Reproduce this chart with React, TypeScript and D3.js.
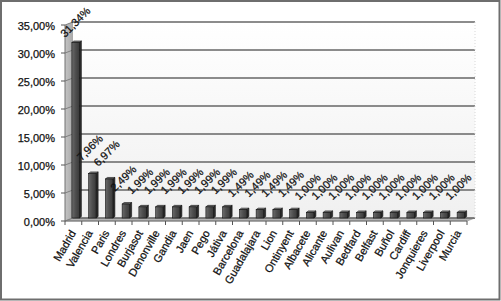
import React from "react";
import * as d3 from "d3";

const categories = [
  "Madrid", "Valencia", "Paris", "Londres", "Burjasot", "Denonville", "Gandia", "Jaen",
  "Pego", "Játiva", "Barcelona", "Guadalajara", "Lion", "Ontinyent", "Albacete", "Alicante",
  "Aulivan", "Bedfard", "Belfast", "Buñol", "Cardiff", "Jonquieres", "Liverpool", "Murcia",
];
const values = [
  31.34, 7.96, 6.97, 2.49, 1.99, 1.99, 1.99, 1.99,
  1.99, 1.99, 1.49, 1.49, 1.49, 1.49, 1.0, 1.0,
  1.0, 1.0, 1.0, 1.0, 1.0, 1.0, 1.0, 1.0,
];
const yTicks = [0, 5, 10, 15, 20, 25, 30, 35];

const W = 501;
const H = 301;
const DX = 8;
const DY = -3;
const FONT = "'Liberation Sans', Arial, sans-serif";

const fmt = (v: number) => d3.format(".2f")(v).replace(".", ",") + "%";

export default function App() {
  const x = d3.scaleBand<string>().domain(categories).range([65, 467]).padding(0);
  const y = d3.scaleLinear().domain([0, 35]).range([221, 25]);
  const bw = x.bandwidth();
  const xL = x.range()[0];
  const xR = x.range()[1];
  const y0 = y(0);
  const yTop = y(35);

  const faceW = 7.5;
  const sdx = 2;
  const sdy = -1.5;
  const textProps = { fontFamily: FONT, fontSize: 11, fill: "#111", stroke: "#111", strokeWidth: 0.25 };

  return (
    <div style={{ position: "fixed", left: 0, top: 0 }}>
      <svg width={W} height={H} style={{ display: "block" }}>
        <defs>
          <linearGradient id="backWall" x1="0" y1="0" x2="0" y2="1">
            <stop offset="0" stopColor="#ffffff" />
            <stop offset="1" stopColor="#f0f0f0" />
          </linearGradient>
          <linearGradient id="sideWall" x1="0" y1="0" x2="1" y2="0">
            <stop offset="0" stopColor="#c4c4c4" />
            <stop offset="1" stopColor="#a8a8a8" />
          </linearGradient>
          <linearGradient id="barFront" x1="0" y1="0" x2="1" y2="0">
            <stop offset="0" stopColor="#6a6a6a" />
            <stop offset="0.5" stopColor="#4e4e4e" />
            <stop offset="1" stopColor="#3a3a3a" />
          </linearGradient>
        </defs>
        <rect x={0} y={0} width={W} height={H} fill="#ffffff" />
        <rect x={1} y={1} width={W - 2.5} height={H - 2.5} fill="none" stroke="#6e6e6e" strokeWidth={2} />

        {/* back wall */}
        <rect x={xL + DX} y={yTop + DY} width={xR - xL} height={y0 - yTop} fill="url(#backWall)" />
        {/* side wall */}
        <polygon
          points={`${xL},${y0} ${xL + DX},${y0 + DY} ${xL + DX},${yTop + DY} ${xL},${yTop}`}
          fill="url(#sideWall)"
        />
        {/* floor */}
        <polygon
          points={`${xL},${y0} ${xR},${y0} ${xR + DX},${y0 + DY} ${xL + DX},${y0 + DY}`}
          fill="#b2b2b2"
          stroke="#8a8a8a"
          strokeWidth={0.6}
        />
        {/* gridlines */}
        {yTicks.map((t) => (
          <g key={"g" + t}>
            <line x1={xL + DX} x2={xR + DX} y1={y(t) + DY} y2={y(t) + DY} stroke="#666" strokeWidth={1.4} />
            <line x1={xL} x2={xL + DX} y1={y(t)} y2={y(t) + DY} stroke="#808080" strokeWidth={1} />
          </g>
        ))}
        <line x1={xR + DX} x2={xR + DX} y1={yTop + DY} y2={y0 + DY} stroke="#d8d8d8" strokeWidth={1} strokeDasharray="1,2" />

        {/* y axis */}
        <line x1={xL} x2={xL} y1={yTop} y2={y0} stroke="#707070" strokeWidth={1} />
        {yTicks.map((t) => (
          <g key={"t" + t}>
            <line x1={xL - 4} x2={xL} y1={y(t)} y2={y(t)} stroke="#555" strokeWidth={1} />
            <text x={55} y={y(t) + 4.5} textAnchor="end" {...textProps}>
              {fmt(t)}
            </text>
          </g>
        ))}

        {/* x axis ticks */}
        <line x1={xL} x2={xR} y1={y0} y2={y0} stroke="#707070" strokeWidth={1} />
        {d3.range(categories.length + 1).map((i) => (
          <line key={"xt" + i} x1={xL + i * bw} x2={xL + i * bw} y1={y0} y2={y0 + 4} stroke="#555" strokeWidth={1} />
        ))}

        {/* bars */}
        {categories.map((c, i) => {
          const cx = (x(c) as number) + bw / 2;
          const left = cx - 1.5;
          const right = left + faceW;
          const base = y(0) + DY;
          const top = y(values[i]) + DY;
          return (
            <g key={"b" + c}>
              <polygon
                points={`${right},${base} ${right + sdx},${base + sdy} ${right + sdx},${top + sdy} ${right},${top}`}
                fill="#2c2c2c"
                stroke="#111"
                strokeWidth={0.6}
              />
              <polygon
                points={`${left},${top} ${right},${top} ${right + sdx},${top + sdy} ${left + sdx},${top + sdy}`}
                fill="#7a7a7a"
                stroke="#111"
                strokeWidth={0.6}
              />
              <rect x={left} y={top} width={faceW} height={base - top} fill="url(#barFront)" stroke="#111" strokeWidth={0.6} />
            </g>
          );
        })}

        {/* data labels */}
        {categories.map((c, i) => {
          const cx = (x(c) as number) + bw / 2;
          const fc = cx + 2;
          const top = y(values[i]) + DY;
          const lx = fc - 10.5;
          const ly = Math.max(top - 12, 38);
          return (
            <text key={"l" + c} x={lx} y={ly} transform={`rotate(-45 ${lx} ${ly})`} {...textProps}>
              {fmt(values[i])}
            </text>
          );
        })}

        {/* category labels */}
        {categories.map((c) => {
          const cx = (x(c) as number) + bw / 2;
          const lx = cx + 3;
          const ly = 233;
          return (
            <text
              key={"c" + c}
              x={lx}
              y={ly}
              textAnchor="end"
              transform={`rotate(-60 ${lx} ${ly})`}
              {...textProps}
            >
              {c}
            </text>
          );
        })}
      </svg>
    </div>
  );
}
